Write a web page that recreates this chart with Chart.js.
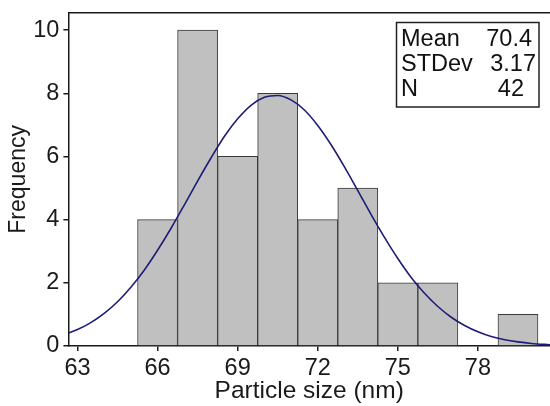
<!DOCTYPE html>
<html>
<head>
<meta charset="utf-8">
<script src="https://cdn.jsdelivr.net/npm/chart.js@4"></script>
<style>
    html, body { margin: 0; padding: 0; background: #ffffff; }
    #wrap { width: 550px; height: 406px; }
</style>
</head>
<body>
<div id="wrap"><canvas id="histChart" width="550" height="406"></canvas></div>
<script>
// ===============================
// DATA
// ===============================

// histogram bins (centre of each 1.5 nm bin) and counts
const binCenters = [66, 67.5, 69, 70.5, 72, 73.5, 75, 76.5, 78, 79.5];
const binCounts = [4, 10, 6, 8, 4, 5, 2, 2, 0, 1];

// fitted normal curve
const curveX = [62.5, 63, 63.5, 64, 64.5, 65, 65.5, 66, 66.5, 67, 67.5, 68, 68.5, 69, 69.5, 70,
    70.5, 71, 71.5, 72, 72.5, 73, 73.5, 74, 74.5, 75, 75.5, 76, 76.5, 77, 77.5, 78,
    78.5, 79, 79.5, 80, 80.5, 81];
const curveY = [0.36, 0.52, 0.74, 1.03, 1.40, 1.86, 2.40, 3.03, 3.72, 4.46, 5.22, 5.95, 6.63, 7.19, 7.62, 7.87,
    7.93, 7.79, 7.47, 6.98, 6.37, 5.67, 4.92, 4.16, 3.44, 2.77, 2.17, 1.67, 1.25, 0.91, 0.65, 0.45,
    0.30, 0.20, 0.13, 0.08, 0.05, 0.03];

const xTicks = [63, 66, 69, 72, 75, 78];
const yTicks = [0, 2, 4, 6, 8, 10];

const statLabels = ["Mean", "STDev", "N"];
const statValues = ["70.4", "3.17", "42"];

const FONT = "'Liberation Sans', Arial, sans-serif";

// ===============================
// PLUGINS
// ===============================

// top frame line
const frameTop = {
    id: "frameTop",
    afterDraw: function (chart) {
        const ctx = chart.ctx;
        const area = chart.chartArea;
        ctx.save();
        ctx.strokeStyle = "#1a1a1a";
        ctx.lineWidth = 1.5;
        ctx.beginPath();
        ctx.moveTo(area.left, area.top);
        ctx.lineTo(area.right, area.top);
        ctx.stroke();
        ctx.restore();
    }
};

// stats box in the top right corner
const statsBox = {
    id: "statsBox",
    afterDraw: function (chart) {
        const ctx = chart.ctx;
        const valueRight = [532, 536, 524];
        ctx.save();
        ctx.fillStyle = "#ffffff";
        ctx.fillRect(396.5, 22.5, 142.5, 84.5);
        ctx.strokeStyle = "#222222";
        ctx.lineWidth = 1.5;
        ctx.strokeRect(396.5, 22.5, 142.5, 84.5);

        ctx.font = "23.5px " + FONT;
        ctx.fillStyle = "#111111";
        ctx.textBaseline = "alphabetic";
        statLabels.forEach(function (label, i) {
            const y = 46 + i * 25;
            ctx.textAlign = "left";
            ctx.fillText(label, 401, y);
            ctx.textAlign = "right";
            ctx.fillText(statValues[i], valueRight[i], y);
        });
        ctx.restore();
    }
};

// ===============================
// CHART
// ===============================

const histChart = new Chart(document.getElementById("histChart"), {
    data: {
        datasets: [
            {
                type: "line",
                data: curveX.map(function (x, i) { return { x: x, y: curveY[i] }; }),
                borderColor: "#1d1d78",
                borderWidth: 1.6,
                pointRadius: 0,
                cubicInterpolationMode: "monotone",
                order: 0
            },
            {
                type: "bar",
                data: binCenters.map(function (x, i) { return { x: x, y: binCounts[i] }; }),
                backgroundColor: "#c0c0c0",
                borderColor: "#3a3a3a",
                borderWidth: 1,
                borderSkipped: "start",
                barPercentage: 1,
                categoryPercentage: 1,
                order: 1
            }
        ]
    },
    options: {
        responsive: false,
        animation: false,
        layout: {
            padding: { top: 12.7, right: 0, bottom: 0, left: 0 }
        },
        plugins: {
            legend: { display: false },
            tooltip: { enabled: false }
        },
        scales: {
            x: {
                type: "linear",
                offset: false,
                min: 62.66,
                max: 80.7,
                afterFit: function (scale) {
                    scale.height = 60;
                    scale.paddingLeft = 0;
                    scale.paddingRight = 0;
                },
                afterBuildTicks: function (scale) {
                    scale.ticks = xTicks.map(function (v) { return { value: v }; });
                },
                ticks: {
                    color: "#1a1a1a",
                    padding: 3,
                    font: { family: FONT, size: 23.5 }
                },
                grid: {
                    display: true,
                    offset: false,
                    drawOnChartArea: false,
                    drawTicks: true,
                    tickLength: 5,
                    color: "#1a1a1a",
                    lineWidth: 1.5
                },
                border: { display: true, color: "#1a1a1a", width: 1.5 },
                title: {
                    display: true,
                    text: "Particle size (nm)",
                    color: "#1a1a1a",
                    padding: { top: 0, bottom: 0 },
                    font: { family: FONT, size: 24.5, lineHeight: 1.2 }
                }
            },
            y: {
                type: "linear",
                min: 0,
                max: 10.55,
                afterFit: function (scale) {
                    scale.width = 68.4;
                    scale.paddingTop = 0;
                    scale.paddingBottom = 0;
                },
                afterBuildTicks: function (scale) {
                    scale.ticks = yTicks.map(function (v) { return { value: v }; });
                },
                ticks: {
                    color: "#1a1a1a",
                    padding: 4,
                    font: { family: FONT, size: 23.5 }
                },
                grid: {
                    display: true,
                    drawOnChartArea: false,
                    drawTicks: true,
                    tickLength: 5,
                    color: "#1a1a1a",
                    lineWidth: 1.5
                },
                border: { display: true, color: "#1a1a1a", width: 1.5 },
                title: {
                    display: true,
                    text: "Frequency",
                    color: "#1a1a1a",
                    padding: { top: 5, bottom: 0 },
                    font: { family: FONT, size: 23, lineHeight: 1.2 }
                }
            }
        }
    },
    plugins: [frameTop, statsBox]
});
</script>
</body>
</html>
